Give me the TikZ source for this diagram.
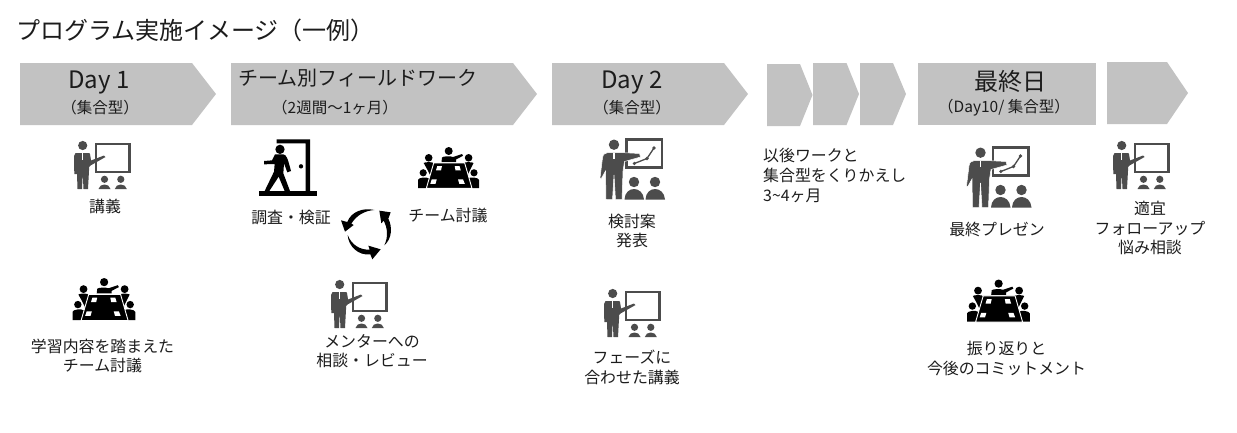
\documentclass[tikz,border=0pt]{standalone}
\usepackage{fontspec}
\setmainfont{Noto Sans CJK JP}
\definecolor{chev}{HTML}{C2C2C2}
\definecolor{ink}{HTML}{1C1C1C}
\definecolor{iconink}{HTML}{4C4C4C}
\tikzset{
  chevshape/.style={fill=chev,draw=none},
  lab/.style={text=ink,inner sep=0pt,align=center,font=\fontsize{15.9}{19.6}\selectfont},
  leftlab/.style={lab,align=left,anchor=west},
  sublab/.style={text=ink,inner sep=0pt,align=center,font=\fontsize{15.5}{18}\selectfont},
  headlab/.style={text=ink,inner sep=0pt,align=center,font=\fontsize{24}{28}\selectfont},
  pics/teacher/.style={code={
    \draw[iconink,line width=2.2pt] (22,1) rectangle (55.5,29);
    \fill[iconink] (8.7,2.5) circle (4.6);
    \fill[iconink] (1.5,10) -- (15,10) .. controls (16,10) and (16,11) .. (16.5,14) -- (17,17.5) -- (30,12.5) -- (31.5,14) -- (16.5,22.5) -- (15.2,24) -- (14,46) -- (9.5,46) -- (8.7,30) -- (8,46) -- (3.5,46) -- (3,31) -- (0.3,31) -- (0,13) -- cycle;
    \fill[white] (8.2,10) -- (9.2,10) -- (9.2,17) -- (8.2,17) -- cycle;
    \fill[iconink] (30.5,36.3) circle (3.6) (46.8,36.3) circle (3.6);
    \fill[iconink] (24.5,46) .. controls (25.5,40) and (35.5,40) .. (36.5,46) -- cycle;
    \fill[iconink] (40.8,46) .. controls (41.8,40) and (51.8,40) .. (52.8,46) -- cycle;
  }},
  pics/chartteacher/.style={code={
    \draw[iconink,line width=2.6pt] (26.5,1.3) rectangle (62,29.5);
    \draw[iconink,line width=1.3pt] (34.3,25.5) -- (47,20.5) -- (54,10);
    \fill[iconink] (34.3,25.5) circle (1.8) (47,20.5) circle (1.8) (54,10) circle (1.8);
    \fill[iconink] (14,6.7) circle (5.2);
    \fill[iconink,draw=white,line width=0.5pt] (8,14.5) -- (20,14.5) -- (39.5,15.5) -- (40.5,19) -- (24.5,23.5) -- (23,33) -- (22,61.5) -- (15.5,61.5) -- (14,37) -- (12.5,61.5) -- (6,61.5) -- (5.5,33) -- (1,41) -- (0,40) -- (2.5,20) .. controls (3,16) and (5,15) .. (8,14.5) -- cycle;
    \fill[white] (13.4,14.5) -- (14.6,14.5) -- (14.6,21) -- (13.4,21) -- cycle;
    \fill[iconink] (34,44) circle (5.2) (55,44) circle (5.2);
    \fill[iconink] (24.5,61.5) .. controls (25,47.5) and (43,47.5) .. (44,61.5) -- cycle;
    \fill[iconink] (45.5,61.5) .. controls (46,47.5) and (64,47.5) .. (65,61.5) -- cycle;
  }},
  pics/meeting/.style={code={
    \fill[black] (30.7,4) circle (4);
    \fill[black] (23.5,15) -- (24,10.5) .. controls (25,9) and (33,9) .. (35,10) -- (44,7) -- (45,8.8) -- (38,12.5) -- (38,15) -- cycle;
    \fill[black] (10.7,10.8) circle (3.8) (50.6,10.8) circle (3.8) (5.2,25.8) circle (3.6) (56,25.8) circle (3.6);
    \fill[black] (5.7,16) .. controls (7,15) and (12,15) .. (14.5,15.5) -- (16.7,18) -- (13,30) -- (9,22) -- cycle;
    \fill[black] (55.5,16) .. controls (54,15) and (49,15) .. (47,15.5) -- (44.8,18) -- (48.5,30) -- (52.5,22) -- cycle;
    \fill[black] (0,41) -- (0,33) .. controls (0,30.5) and (9,29.5) .. (11,31.5) -- (9,41) -- cycle;
    \fill[black] (61,41) -- (61,33) .. controls (61,30.5) and (52,29.5) .. (50,31.5) -- (52.5,41) -- cycle;
    \fill[black,draw=white,line width=0.9pt] (15.7,16) -- (46.7,16) -- (54,41.4) -- (8.3,41.4) -- cycle;
    \fill[white] (19.3,19) -- (24,19) -- (23,23.3) -- (18,23.3) -- cycle;
    \fill[white] (36.7,19) -- (41.5,19) -- (42.8,23.3) -- (37.5,23.3) -- cycle;
    \fill[white] (13.8,32.3) -- (18.8,32.3) -- (17.5,36.8) -- (12.3,36.8) -- cycle;
    \fill[white] (40,32.3) -- (45,32.3) -- (46.8,36.8) -- (41.3,36.8) -- cycle;
  }},
  pics/walker/.style={code={
    \fill[black] (27,183) rectangle (200,197);
    \fill[black] (80,28) -- (180,28) -- (180,183) -- (167,183) -- (167,40) -- (80,40) -- cycle;
    \fill[black] (153,109) circle (6.5);
    \fill[black] (90,58) circle (14);
    \fill[black] (75,73) -- (100,73) .. controls (110,75) and (113,85) .. (123,123) -- (112,127) -- (102,100) -- (100,130) -- (120,183) -- (104,183) -- (86,140) -- (58,183) -- (44,183) -- (72,125) -- (74,102) -- (42,103) -- (42,93) -- (66,91) -- cycle;
  }},
  pics/cycle/.style={code={
    \fill[black] (118,30) .. controls (85,22) and (48,35) .. (37,66) -- (18,61) -- (30,95) -- (56,75) -- (49,71) .. controls (65,45) and (90,32) .. (118,30) -- cycle;
    \fill[black] (148,136) .. controls (172,115) and (172,80) .. (160,56) -- (167,37) -- (133,32) -- (139,70) -- (146,62) .. controls (158,85) and (160,110) .. (148,136) -- cycle;
    \fill[black] (38,105) .. controls (40,140) and (72,168) .. (106,163) -- (112,178) -- (137,148) -- (100,137) -- (104,149) .. controls (75,150) and (50,135) .. (38,105) -- cycle;
  }},
}
\begin{document}
\begin{tikzpicture}[x=1pt,y=-1pt]
\path[use as bounding box,fill=white] (0,0) rectangle (1237,432);
% arrows
\fill[chevshape] (20,63) -- (192,63) -- (216,94) -- (192,125) -- (20,125) -- cycle;
\fill[chevshape] (231,63) -- (513,63) -- (537,94) -- (513,125) -- (231,125) -- cycle;
\fill[chevshape] (552,63) -- (724,63) -- (748,94) -- (724,125) -- (552,125) -- cycle;
\fill[chevshape] (767,64) -- (800,64) -- (812.5,95) -- (800,126) -- (767,126) -- cycle;
\fill[chevshape] (813,63) -- (846.5,63) -- (859,94) -- (846.5,125) -- (813,125) -- cycle;
\fill[chevshape] (860,63) -- (893,63) -- (906,94) -- (893,125) -- (860,125) -- cycle;
\fill[chevshape] (918,63) rectangle (1096,125);
\fill[chevshape] (1107,62) -- (1167,62) -- (1188,93) -- (1167,124) -- (1107,124) -- cycle;
% title
\node[anchor=west,text=ink,inner sep=0pt,font=\fontsize{24}{28}\selectfont] (title) at (16,30) {プログラム実施イメージ（一例）};
% arrow texts
\node[headlab] (day1) at (99,83) {Day 1};
\node[sublab] (day1s) at (100,107.5) {（集合型）};
\node[headlab,font=\fontsize{20}{24}\selectfont] (field) at (357.5,78) {チーム別フィールドワーク};
\node[sublab] (fields) at (335,107.5) {（2週間〜1ヶ月）};
\node[headlab] (day2) at (632,83) {Day 2};
\node[sublab] (day2s) at (632,107.5) {（集合型）};
\node[headlab] (last) at (1010,81) {最終日};
\node[sublab] (lasts) at (1004,107.5) {（Day10/ 集合型）};
% icons
\pic at (74,143) {teacher};
\pic at (331,282) {teacher};
\pic at (604,291) {teacher};
\pic at (1113,143) {teacher};
\pic at (600,138) {chartteacher};
\pic at (966.5,146) {chartteacher};
\pic[scale=1.03] at (72.5,278) {meeting};
\pic at (418,147) {meeting};
\pic[scale=1.03] at (967,279.5) {meeting};
\pic[scale=1/3] at (250,130) {walker};
\pic[scale=1/3] at (335,200) {cycle};
% labels
\node[lab] (kogi) at (105,206) {講義};
\node[lab] (chosa) at (291,217) {調査・検証};
\node[lab] (team) at (448,215) {チーム討議};
\node[lab] (gakushu) at (102.5,356) {学習内容を踏まえた\\チーム討議};
\node[lab] (mentor) at (372,351) {メンターへの\\相談・レビュー};
\node[lab] (kento) at (632,231) {検討案\\発表};
\node[lab] (phase) at (632,367.5) {フェーズに\\合わせた講義};
\node[leftlab] (igo) at (763,175.5) {以後ワークと\\集合型をくりかえし\\3\textasciitilde4ヶ月};
\node[lab] (saishu) at (997,229) {最終プレゼン};
\node[lab] (tekigi) at (1150,228) {適宜\\フォローアップ\\悩み相談};
\node[lab] (furikaeri) at (1006.5,358.5) {振り返りと\\今後のコミットメント};
\end{tikzpicture}
\end{document}
